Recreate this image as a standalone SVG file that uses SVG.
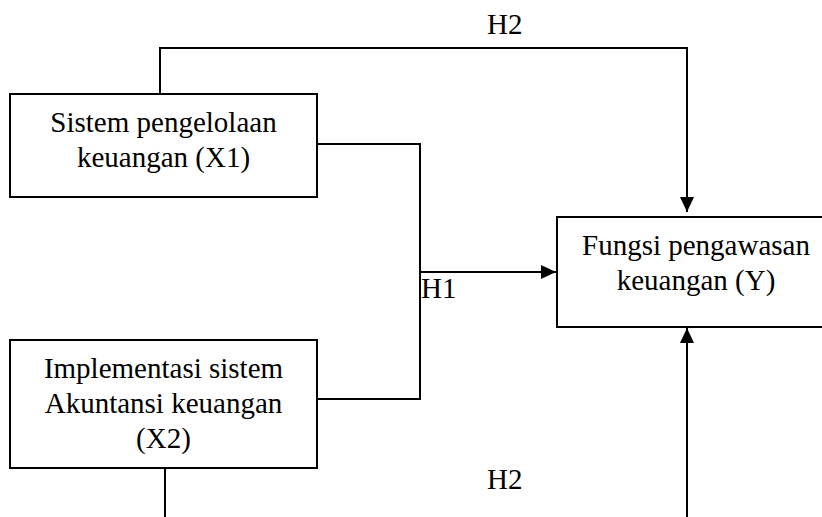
<svg xmlns="http://www.w3.org/2000/svg" width="822" height="517" viewBox="0 0 822 517">
<defs>
<style>
.box{fill:#fff;stroke:#000;stroke-width:2}
.ln{fill:none;stroke:#000;stroke-width:2}
.c{text-anchor:middle}
</style>
<marker id="ah" markerUnits="userSpaceOnUse" markerWidth="16" markerHeight="16" viewBox="0 0 16 16" refX="15" refY="8" orient="auto">
<path d="M0,1 L15,8 L0,15 Z" fill="#000"/>
</marker>
</defs>
<rect width="822" height="517" fill="#fff"/>
<g font-family="'Liberation Serif', 'Times New Roman', 'DejaVu Serif', serif" font-size="29" fill="#000">
<g id="connectors">
<path class="ln" d="M160,94 V48 H687 V212" marker-end="url(#ah)"/>
<path class="ln" d="M317,144 H420 V399 H317"/>
<path class="ln" d="M420,272 H556" marker-end="url(#ah)"/>
<path class="ln" d="M165,468 V517"/>
<path class="ln" d="M687,517 V328" marker-end="url(#ah)"/>
<text x="487" y="34">H2</text>
<text x="421" y="298">H1</text>
<text x="487" y="489">H2</text>
</g>
<g id="x1">
<rect class="box" x="10" y="94" width="307" height="103"/>
<text class="c" x="163.5" y="132">Sistem pengelolaan</text>
<text class="c" x="163.5" y="167">keuangan (X1)</text>
</g>
<g id="x2">
<rect class="box" x="10" y="340" width="307" height="128"/>
<text class="c" x="163.5" y="378">Implementasi sistem</text>
<text class="c" x="163.5" y="413">Akuntansi keuangan</text>
<text class="c" x="163.5" y="448">(X2)</text>
</g>
<g id="y">
<rect class="box" x="557" y="217" width="280" height="110"/>
<text class="c" x="696" y="255">Fungsi pengawasan</text>
<text class="c" x="696" y="290">keuangan (Y)</text>
</g>
</g>
</svg>
